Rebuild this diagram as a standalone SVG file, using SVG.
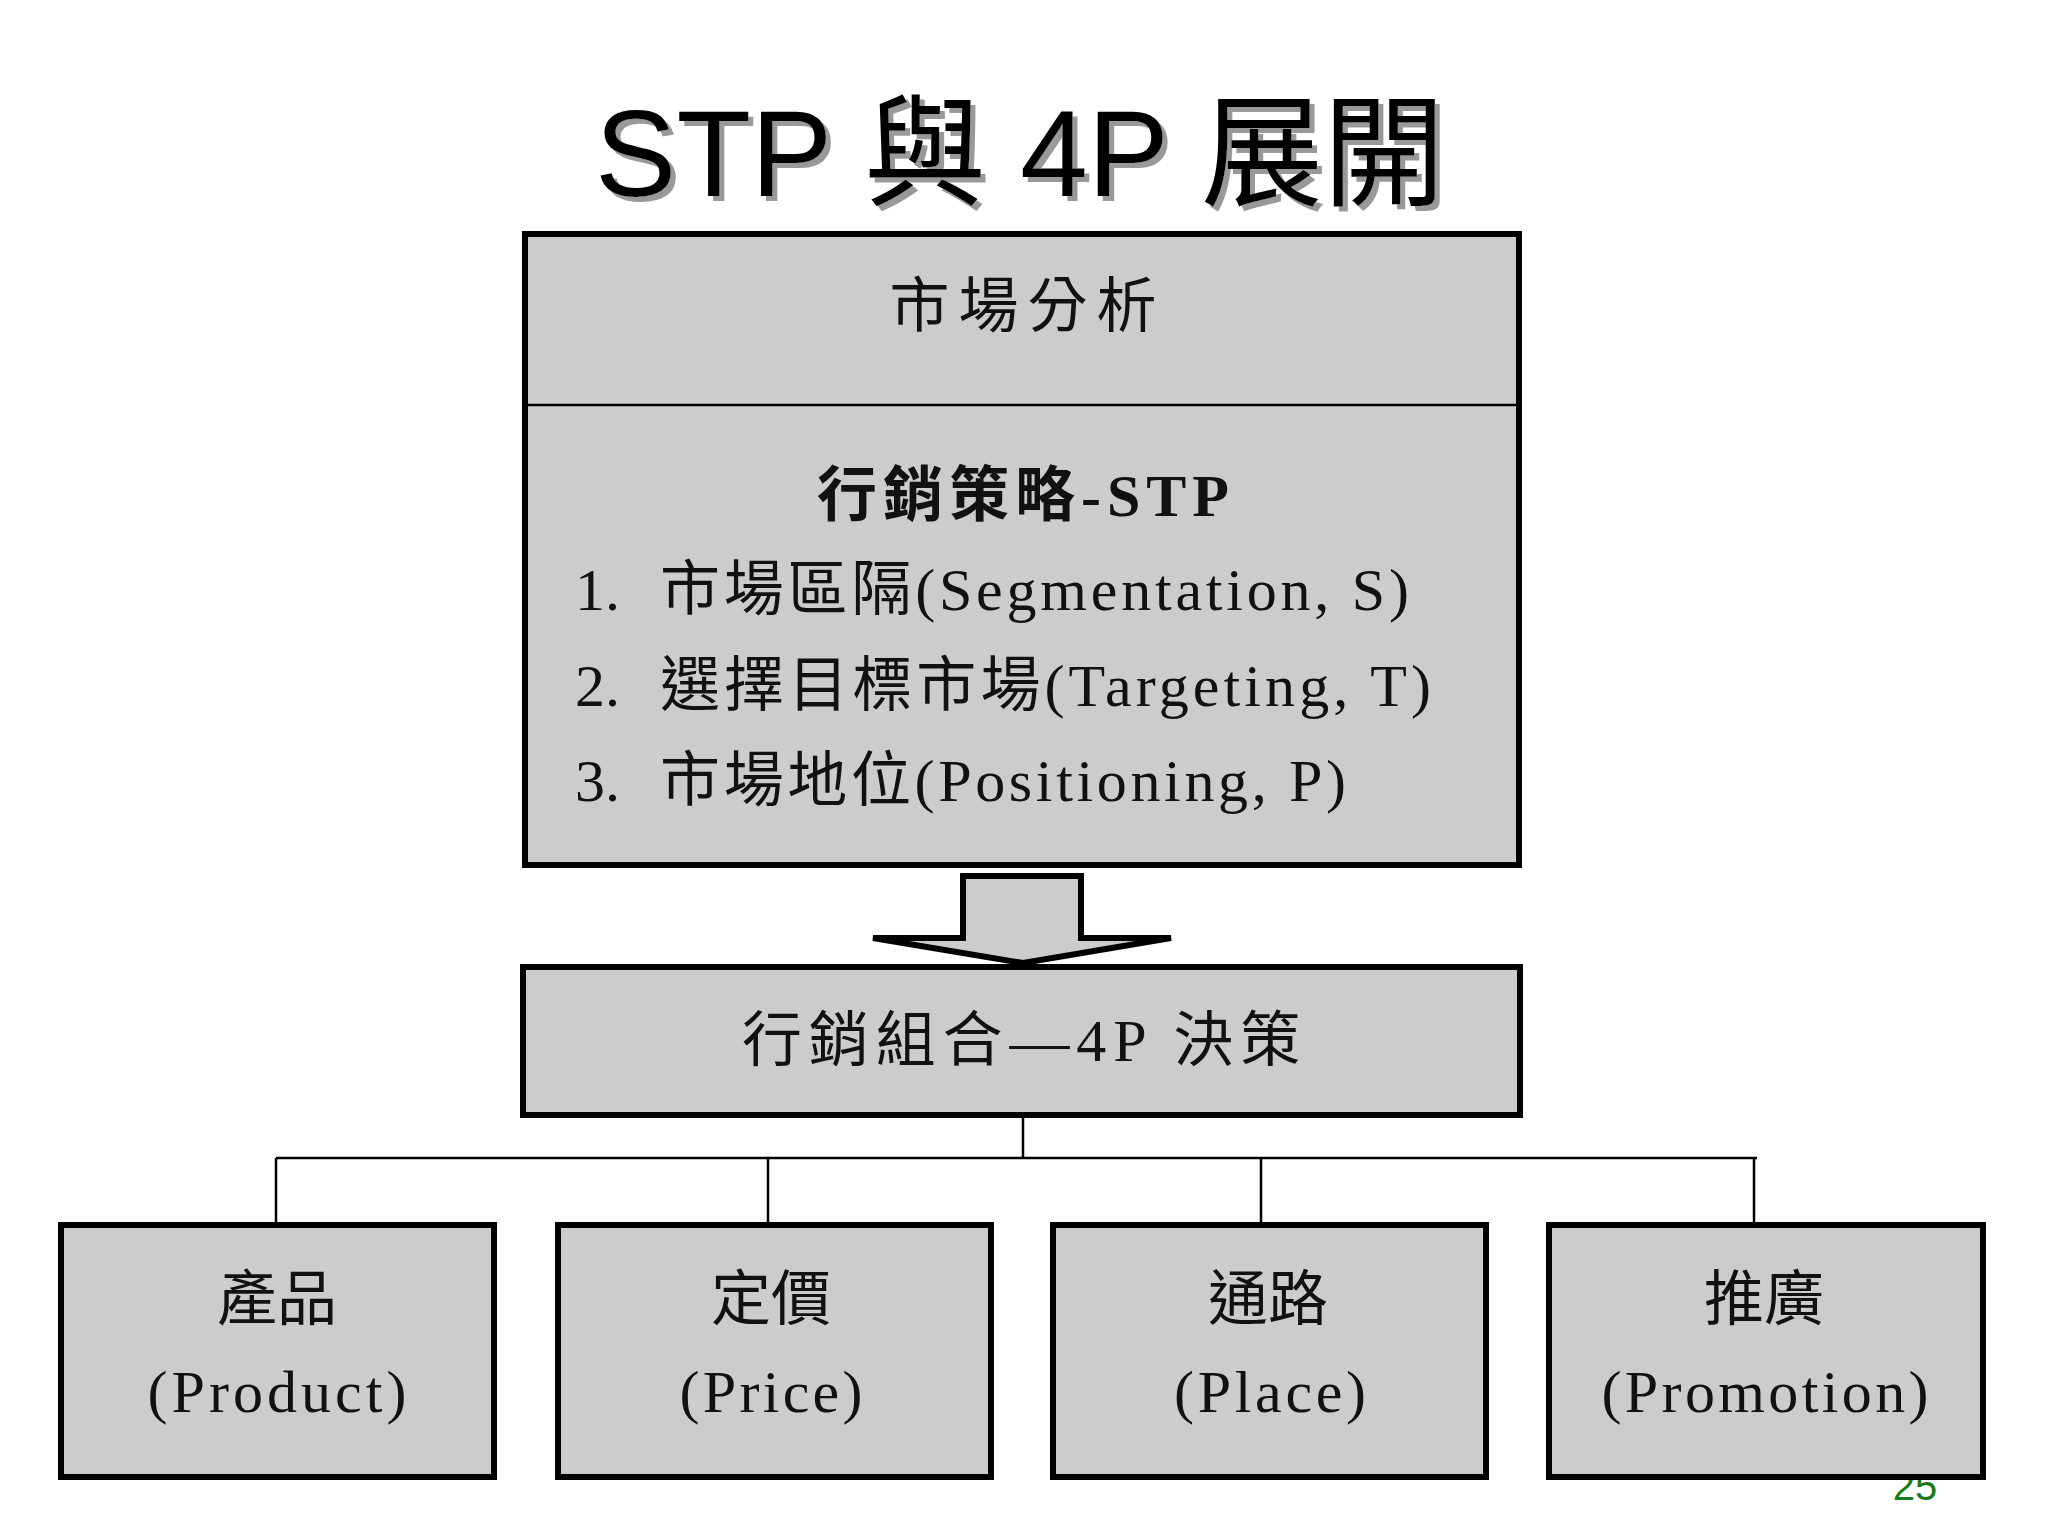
<svg xmlns="http://www.w3.org/2000/svg" width="2048" height="1536" viewBox="0 0 2048 1536">
<style>
.box{fill:#cccccc;stroke:#000;stroke-width:6}
.t{font-family:"Liberation Serif","Noto Sans CJK TC",serif;font-size:60px;fill:#111}
.c{text-anchor:middle}
.ln{stroke:#000;stroke-width:2.5;fill:none}
</style>
<defs>
<filter id="sh" x="-5%" y="-10%" width="110%" height="130%">
<feOffset in="SourceAlpha" dx="5" dy="5" result="o"/>
<feFlood flood-color="#999"/><feComposite in2="o" operator="in" result="s"/>
<feMerge><feMergeNode in="s"/><feMergeNode in="SourceGraphic"/></feMerge>
</filter>
</defs>
<rect width="2048" height="1536" fill="#fff"/>
<g id="title">
<text x="1020" y="196" font-family="Liberation Sans,'Noto Sans CJK TC',sans-serif" font-size="122" text-anchor="middle" fill="#000" filter="url(#sh)">STP 與 4P 展開</text>
</g>
<text x="1915" y="1500" font-family="Liberation Sans,sans-serif" font-size="40" fill="#1a7a1a" text-anchor="middle">25</text>
<g id="top">
<rect class="box" x="525" y="234" width="994" height="631"/>
<line x1="528" y1="405" x2="1516" y2="405" stroke="#000" stroke-width="2.5"/>
<text class="t c" x="1023" y="327" textLength="267">市場分析</text>
<text class="t c" x="1023" y="516" font-weight="bold" textLength="412">行銷策略-STP</text>
<text class="t" x="575" y="610">1.</text><text class="t" x="660" y="610" textLength="749">市場區隔(Segmentation, S)</text>
<text class="t" x="575" y="706">2.</text><text class="t" x="660" y="706" textLength="771">選擇目標市場(Targeting, T)</text>
<text class="t" x="575" y="801">3.</text><text class="t" x="660" y="801" textLength="686">市場地位(Positioning, P)</text>
</g>
<g id="arrow">
<polygon points="963,876 1081,876 1081,938 1171,938 1023,963 873,938 963,938" fill="#cccccc" stroke="#000" stroke-width="6" stroke-linejoin="miter"/>
</g>
<g id="mix">
<rect class="box" x="523" y="967" width="997" height="148"/>
<text class="t c" x="1021" y="1061" font-size="62" textLength="558">行銷組合—4P 決策</text>
</g>
<g id="connectors">
<path class="ln" d="M1023,1115 V1158 M276,1158 H1757 M276,1158 V1225 M768,1158 V1225 M1261,1158 V1225 M1754,1158 V1225"/>
</g>
<g id="product"><rect class="box" x="61" y="1225" width="433" height="252"/>
<text class="t c" x="277" y="1320">產品</text><text class="t c" x="277" y="1412" textLength="259">(Product)</text></g>
<g id="price"><rect class="box" x="558" y="1225" width="433" height="252"/>
<text class="t c" x="771" y="1320">定價</text><text class="t c" x="771" y="1412" textLength="183">(Price)</text></g>
<g id="place"><rect class="box" x="1053" y="1225" width="433" height="252"/>
<text class="t c" x="1268" y="1320">通路</text><text class="t c" x="1270" y="1412" textLength="192">(Place)</text></g>
<g id="promotion"><rect class="box" x="1549" y="1225" width="434" height="252"/>
<text class="t c" x="1764" y="1320">推廣</text><text class="t c" x="1765" y="1412" textLength="327">(Promotion)</text></g>
</svg>
